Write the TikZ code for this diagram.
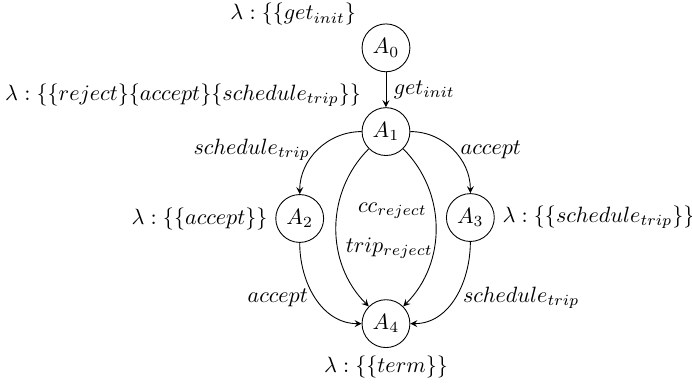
\documentclass[tikz,border=0pt]{standalone}
\usepackage{amsmath, amssymb}
\usepackage{tikz}
\usetikzlibrary{arrows.meta, positioning, calc}

\begin{document}
\begin{tikzpicture}[
    node_state/.style={circle, draw, minimum size=0.76cm, inner sep=0pt, on grid},
    node_lab/.style={draw=none},
    edge_path/.style={->, >=stealth},
    node distance=1.33cm and 1.35cm
  ]
    \useasboundingbox (-6.13,-5.40) rectangle (4.86,0.76);

    \node[node_state] (A0) {$A_0$};
    \node[node_state, below=1.33cm of A0] (A1) {$A_1$};

    \node[node_state, below left=1.38cm and 1.37cm of A1] (A2) {$A_2$};
    \node[node_state, below right=1.365cm and 1.34cm of A1] (A3) {$A_3$};

    \node[node_state, below=3.05cm of A1] (A4) {$A_4$};

    \node[node_lab, above left=0cm and 0.08cm of A0, yshift=-0.04cm] (L0) {$\lambda : \{\{get_{init}\}$};
    \node[node_lab, above left=0cm and 0cm of A1] (L1) {$\lambda : \{\{reject\}\{accept\}\{schedule_{trip}\}\}$};
    \node[node_lab, left=0cm of A2] (L2) {$\lambda : \{\{accept\}\}$};
    \node[node_lab, right=0cm of A3] (L3) {$\lambda : \{\{schedule_{trip}\}\}$};
    \node[node_lab, below=0cm of A4] (L4) {$\lambda : \{\{term\}\}$};

    \draw[edge_path] (A0) to node[right] (e01) {$get_{init}$} (A1);
    \draw[edge_path] (A1) to[out=180, in=90] node[left] (e12) {$schedule_{trip}$} (A2);
    \draw[edge_path] (A1) to[out=0, in=90] node[right] (e13) {$accept$} (A3);

    \draw[edge_path] (A1) to[bend right=45] node[pos=0.62, right] (e14a) {$trip_{reject}$} (A4);
    \draw[edge_path] (A1) to[bend left=45] node[pos=0.4, left] (e14b) {$cc_{reject}$} (A4);

    \draw[edge_path] (A2) to[out=-90, in=180] node[left] (e24) {$accept$} (A4);
    \draw[edge_path] (A3) to[out=-90, in=0] node[right] (e34) {$schedule_{trip}$} (A4);
  \end{tikzpicture}
\end{document}
